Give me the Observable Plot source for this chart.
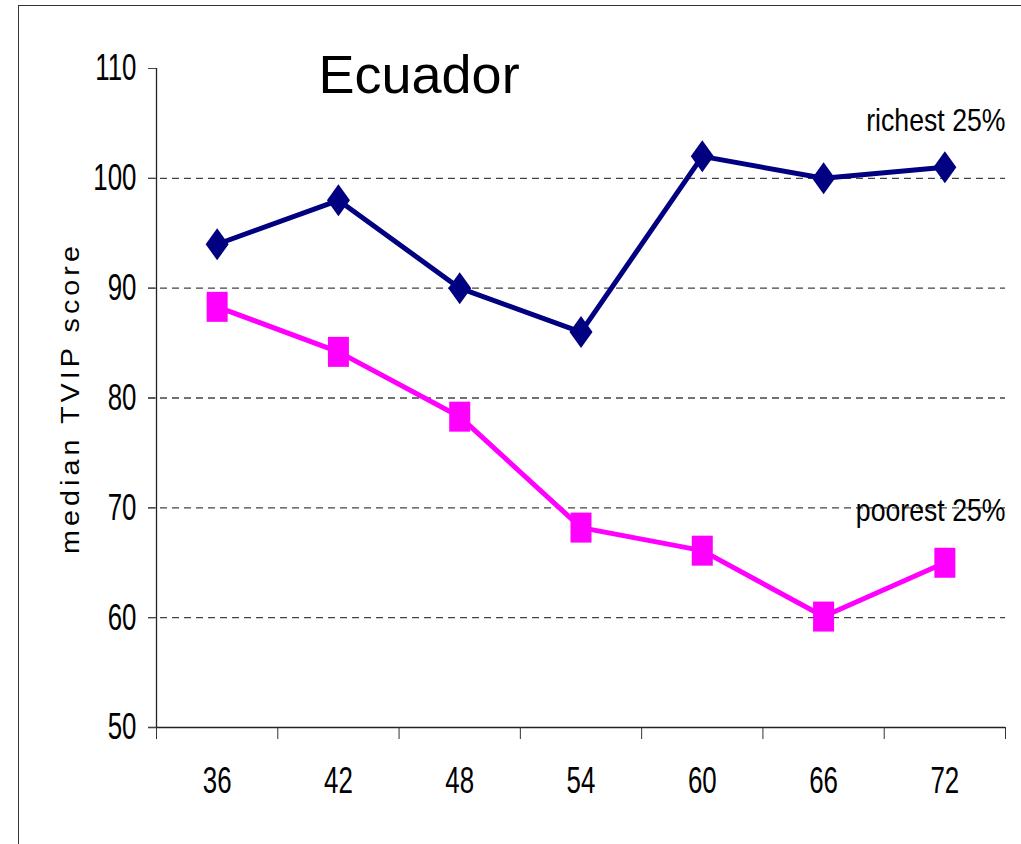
<!DOCTYPE html>
<html>
<head>
<meta charset="utf-8">
<script src="https://cdn.jsdelivr.net/npm/d3@7"></script>
<script src="https://cdn.jsdelivr.net/npm/@observablehq/plot@0.6"></script>
<style>
  html, body { margin: 0; padding: 0; background: #fff; overflow: hidden; }
  #wrap { position: relative; width: 1021px; height: 844px; }
  #frame { position: absolute; left: 18px; top: 5px; width: 1100px; height: 1000px;
           border-left: 1.5px solid #333; border-top: 1.5px solid #333; }
  #chart { position: absolute; left: 0; top: 0; }
</style>
</head>
<body>
<div id="wrap"><div id="frame"></div><div id="chart"></div></div>
<script>
// ---- data ----
const ages = [36, 42, 48, 54, 60, 66, 72];
const richest = [94, 98, 90, 86, 102, 100, 101];
const poorest = [88.3, 84.2, 78.3, 68.2, 66.1, 60.1, 65];
const yTicks = [50, 60, 70, 80, 90, 100, 110];
const gridValues = [60, 70, 80, 90, 100];
const xEdges = [33, 39, 45, 51, 57, 63, 69, 75];
const titleText = "Ecuador";
const yLabel = "median TVIP score";
const seriesLabels = ["richest 25%", "poorest 25%"];

const richRows = ages.map((a, i) => ({age: a, v: richest[i]}));
const poorRows = ages.map((a, i) => ({age: a, v: poorest[i]}));

const sans = "'Liberation Sans', Arial, sans-serif";

const tallDiamond = { draw(ctx) { const w = 11.5, h = 16; ctx.moveTo(0, -h); ctx.lineTo(w, 0); ctx.lineTo(0, h); ctx.lineTo(-w, 0); ctx.closePath(); } };
const tallSquare = { draw(ctx) { ctx.rect(-10.5, -15, 21, 30); } };

const svg = Plot.plot({
  width: 1021, height: 844,
  marginLeft: 156, marginTop: 68, marginRight: 16, marginBottom: 117,
  style: { background: "transparent", fontFamily: sans, color: "#000" },
  x: { domain: [33, 75] },
  y: { domain: [50, 110] },
  marks: [
    Plot.ruleY(gridValues, { stroke: "#444", strokeWidth: 1.3, strokeDasharray: "7,5", insetLeft: -8 }),
    Plot.ruleY([50], { stroke: "#222", strokeWidth: 1.3, insetLeft: -8 }),
    Plot.ruleX([33], { stroke: "#222", strokeWidth: 1.3 }),
    Plot.axisY({ ticks: yTicks, tickSize: 8, tickPadding: 12, fontSize: 37, label: null, stroke: "#444" }),
    Plot.axisX({ ticks: xEdges, tickSize: 12, tickFormat: () => "", label: null, stroke: "#333" }),
    Plot.axisX({ ticks: ages, tickSize: 0, tickPadding: 39, fontSize: 37, label: null }),
    Plot.line(richRows, { x: "age", y: "v", stroke: "#000080", strokeWidth: 5 }),
    Plot.line(poorRows, { x: "age", y: "v", stroke: "#FF00FF", strokeWidth: 5 }),
    Plot.dot(richRows, { x: "age", y: "v", symbol: tallDiamond, fill: "#000080", stroke: null }),
    Plot.dot(poorRows, { x: "age", y: "v", symbol: tallSquare, fill: "#FF00FF", stroke: null }),
    Plot.text([titleText], { frameAnchor: "top-left", dx: 162, dy: 24, textAnchor: "start", lineAnchor: "bottom", fontSize: 54, fill: "#000" }),
    Plot.text([seriesLabels[0]], { frameAnchor: "top-right", dy: 62, textAnchor: "end", lineAnchor: "bottom", fontSize: 31, fill: "#000" }),
    Plot.text([seriesLabels[1]], { frameAnchor: "top-right", dy: 452, textAnchor: "end", lineAnchor: "bottom", fontSize: 31, fill: "#000" }),
    Plot.text([yLabel], { frameAnchor: "left", dx: -86, rotate: -90, textAnchor: "middle", lineAnchor: "middle", fontSize: 25, fill: "#000" })
  ]
});
document.getElementById("chart").appendChild(svg);

// the original is stretched vertically: condense horizontal texts, stretch the rotated label
const condense = {};
yTicks.forEach(t => condense[String(t)] = 0.70);
ages.forEach(t => condense[String(t)] = 0.70);
seriesLabels.forEach(t => condense[t] = 0.86);
const targets = [];
let labelEl = null;
d3.select(svg).selectAll("text").each(function() {
  const t = this.textContent;
  if (this.children.length === 0 && condense[t] !== undefined) targets.push(this);
  if (t === yLabel) { this.style.letterSpacing = "3.5px"; labelEl = this; }
});
function wrap(el) {
  const g = document.createElementNS("http://www.w3.org/2000/svg", "g");
  el.parentNode.insertBefore(g, el);
  g.appendChild(el);
  return g;
}
targets.forEach(el => {
  const s = condense[el.textContent];
  const anchor = getComputedStyle(el).textAnchor;
  const g = wrap(el);
  const bb = g.getBBox();
  const ax = anchor === "end" ? bb.x + bb.width : anchor === "middle" ? bb.x + bb.width / 2 : bb.x;
  g.setAttribute("transform", `translate(${ax},0) scale(${s},1) translate(${-ax},0)`);
});
if (labelEl) {
  const g = wrap(labelEl);
  const bb = g.getBBox();
  const cy = bb.y + bb.height / 2;
  g.setAttribute("transform", `translate(0,${cy}) scale(1,1.15) translate(0,${-cy})`);
}
</script>
</body>
</html>
